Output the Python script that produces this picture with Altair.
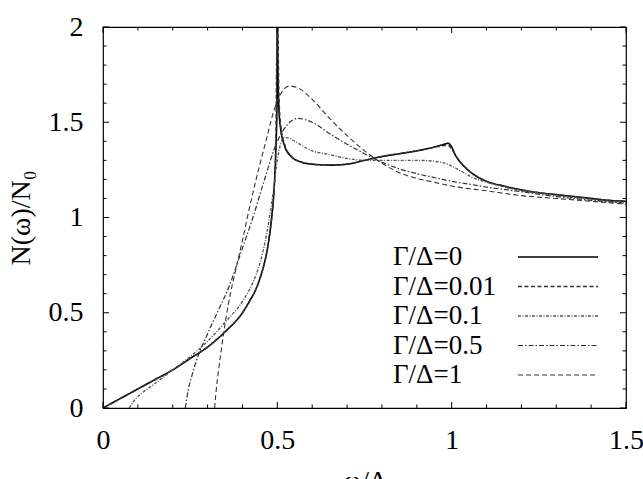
import altair as alt
import pandas as pd

labels = ["Γ/Δ=0", "Γ/Δ=0.01", "Γ/Δ=0.1", "Γ/Δ=0.5", "Γ/Δ=1"]

w0 = [0, 0.05, 0.1, 0.15, 0.2, 0.25, 0.3, 0.35, 0.4, 0.42, 0.44, 0.45, 0.46, 0.47, 0.48, 0.485, 0.49, 0.495,
      0.499, 0.5, 0.501, 0.505, 0.51, 0.52, 0.54, 0.57, 0.6, 0.65, 0.7, 0.75, 0.8, 0.85, 0.9, 0.95, 0.98,
      0.99, 1.0, 1.01, 1.03, 1.06, 1.1, 1.15, 1.2, 1.25, 1.3, 1.35, 1.4, 1.45, 1.5]
n0 = [0, 0.05, 0.10, 0.15, 0.20, 0.26, 0.32, 0.40, 0.50, 0.56, 0.63, 0.68, 0.74, 0.82, 0.94, 1.02, 1.13, 1.32,
      1.6, 2.6, 1.85, 1.55, 1.46, 1.38, 1.32, 1.29, 1.28, 1.275, 1.28, 1.30, 1.32, 1.335, 1.35, 1.37, 1.385,
      1.39, 1.37, 1.33, 1.28, 1.23, 1.19, 1.165, 1.145, 1.13, 1.12, 1.11, 1.10, 1.09, 1.085]

w1 = [0, 0.05, 0.1, 0.15, 0.2, 0.25, 0.3, 0.35, 0.4, 0.42, 0.44, 0.46, 0.47, 0.48, 0.49, 0.495, 0.5, 0.505,
      0.51, 0.52, 0.54, 0.57, 0.6, 0.65, 0.7, 0.75, 0.8, 0.85, 0.9, 0.95, 0.98, 0.99, 1.0, 1.01, 1.03, 1.06,
      1.1, 1.15, 1.2, 1.25, 1.3, 1.35, 1.4, 1.45, 1.5]
n1 = [0.0, 0.05, 0.10, 0.15, 0.20, 0.26, 0.32, 0.40, 0.50, 0.56, 0.63, 0.74, 0.82, 0.94, 1.13, 1.31, 2.05, 1.62,
      1.48, 1.39, 1.32, 1.29, 1.28, 1.275, 1.28, 1.30, 1.32, 1.335, 1.35, 1.368, 1.378, 1.378, 1.36, 1.33,
      1.28, 1.23, 1.19, 1.165, 1.145, 1.13, 1.12, 1.11, 1.10, 1.09, 1.085]

w2 = [0.075, 0.09, 0.1, 0.12, 0.15, 0.2, 0.25, 0.3, 0.35, 0.4, 0.43, 0.45, 0.47, 0.48, 0.49, 0.5, 0.51, 0.52,
      0.535, 0.55, 0.6, 0.65, 0.7, 0.75, 0.8, 0.85, 0.9, 0.95, 0.98, 1.0, 1.03, 1.06, 1.1, 1.15, 1.2, 1.25,
      1.3, 1.35, 1.4, 1.45, 1.5]
n2 = [0, 0.04, 0.06, 0.09, 0.13, 0.20, 0.27, 0.35, 0.45, 0.56, 0.66, 0.76, 0.92, 1.03, 1.16, 1.30, 1.39, 1.42,
      1.415, 1.40, 1.35, 1.33, 1.31, 1.30, 1.30, 1.30, 1.30, 1.295, 1.285, 1.27, 1.24, 1.21, 1.185, 1.16, 1.14,
      1.13, 1.115, 1.105, 1.095, 1.085, 1.08]

w3 = [0.236, 0.245, 0.255, 0.27, 0.3, 0.33, 0.36, 0.4, 0.43, 0.46, 0.5, 0.53, 0.56, 0.6, 0.65, 0.7, 0.75,
      0.8, 0.85, 0.9, 0.95, 1.0, 1.05, 1.1, 1.2, 1.3, 1.4, 1.5]
n3 = [0, 0.10, 0.17, 0.26, 0.39, 0.51, 0.63, 0.84, 1.00, 1.18, 1.40, 1.49, 1.52, 1.50, 1.44, 1.385, 1.335,
      1.29, 1.255, 1.23, 1.21, 1.19, 1.175, 1.16, 1.135, 1.11, 1.09, 1.075]

w4 = [0.32, 0.325, 0.333, 0.345, 0.36, 0.38, 0.4, 0.42, 0.45, 0.47, 0.49, 0.51, 0.535, 0.56, 0.6, 0.65, 0.7,
      0.75, 0.8, 0.85, 0.9, 0.95, 1.0, 1.1, 1.2, 1.3, 1.4, 1.5]
n4 = [0, 0.10, 0.22, 0.38, 0.55, 0.72, 0.88, 1.05, 1.28, 1.42, 1.56, 1.65, 1.69, 1.68, 1.62, 1.52, 1.43,
      1.35, 1.285, 1.235, 1.205, 1.185, 1.165, 1.14, 1.115, 1.10, 1.085, 1.07]

x_major = [0, 0.5, 1.0, 1.5]
x_minor = [0.1, 0.2, 0.3, 0.4, 0.6, 0.7, 0.8, 0.9, 1.1, 1.2, 1.3, 1.4]
y_major = [0, 0.5, 1.0, 1.5, 2.0]
y_minor = [0.1, 0.2, 0.3, 0.4, 0.6, 0.7, 0.8, 0.9, 1.1, 1.2, 1.3, 1.4, 1.6, 1.7, 1.8, 1.9]

rows = []
for lab, ws, ns in zip(labels, [w0, w1, w2, w3, w4], [n0, n1, n2, n3, n4]):
    for w, n in zip(ws, ns):
        rows.append({"series": lab, "w": w, "n": n})
df = pd.DataFrame(rows)
leg = pd.DataFrame({"series": labels})

W, H = 523, 381
FONT = "Liberation Serif"
dash_scale = alt.Scale(domain=labels, range=[[1, 0], [4, 2.5], [3, 1.5, 1, 1.5], [5, 2, 1.5, 2], [5, 3]])
color_scale = alt.Scale(domain=labels, range=["#000000", "#333333", "#555555", "#333333", "#333333"])
width_scale = alt.Scale(domain=labels, range=[1.6, 1.1, 1.1, 1.1, 1.2])
x_scale = alt.Scale(domain=[0, 1.5], nice=False, zero=False)
y_scale = alt.Scale(domain=[0, 2], nice=False, zero=False)

lab_expr = "'' + datum.value"

lines = alt.Chart(df).mark_line(clip=True, interpolate="monotone").encode(
    x=alt.X("w:Q", scale=x_scale,
            axis=alt.Axis(values=x_major, labelExpr=lab_expr, ticks=False, tickSize=0, domain=False,
                          grid=False, labelFlush=False, labelOverlap=False, labelPadding=18,
                          labelFont=FONT, labelFontSize=28, labelColor="black",
                          title="ω/Δ", titleFont=FONT, titleFontSize=28, titleFontWeight="normal",
                          titleColor="black", titleX=W / 2, titleY=59, titleBaseline="top")),
    y=alt.Y("n:Q", scale=y_scale,
            axis=alt.Axis(values=y_major, labelExpr=lab_expr, ticks=False, tickSize=0, domain=False,
                          grid=False, labelOverlap=False, labelPadding=20,
                          labelFont=FONT, labelFontSize=28, labelColor="black",
                          title="N(ω)/N₀", titleFont=FONT, titleFontSize=28, titleFontWeight="normal",
                          titleColor="black", titleX=-68, titleY=H / 2, titleBaseline="bottom",
                          titleAngle=270)),
    strokeDash=alt.StrokeDash("series:N", scale=dash_scale, legend=None),
    color=alt.Color("series:N", scale=color_scale, legend=None),
    strokeWidth=alt.StrokeWidth("series:N", scale=width_scale, legend=None),
    detail="series:N",
)


def xticks(vals, length, top):
    d = pd.DataFrame({"v": vals})
    y0 = 0 if top else H
    y1 = length if top else H - length
    return alt.Chart(d).mark_rule(color="black", strokeWidth=1).encode(
        x=alt.X("v:Q", scale=x_scale, axis=None), y=alt.value(y0), y2=alt.value(y1))


def yticks(vals, length, right):
    d = pd.DataFrame({"v": vals})
    x0 = W if right else 0
    x1 = W - length if right else length
    return alt.Chart(d).mark_rule(color="black", strokeWidth=1).encode(
        y=alt.Y("v:Q", scale=y_scale, axis=None), x=alt.value(x0), x2=alt.value(x1))


tick_layers = [
    xticks(x_major, 6, False), xticks(x_minor, 3.5, False),
    xticks(x_major, 6, True), xticks(x_minor, 3.5, True),
    yticks(y_major, 6, False), yticks(y_minor, 3.5, False),
    yticks(y_major, 6, True), yticks(y_minor, 3.5, True),
]

leg_y = alt.Y("series:N", scale=alt.Scale(type="point", domain=labels, range=[230, 348], padding=0), axis=None)

leg_rules = alt.Chart(leg).mark_rule().encode(
    x=alt.value(415), x2=alt.value(495), y=leg_y,
    strokeDash=alt.StrokeDash("series:N", scale=dash_scale, legend=None),
    color=alt.Color("series:N", scale=color_scale, legend=None),
    strokeWidth=alt.StrokeWidth("series:N", scale=width_scale, legend=None),
)

leg_text = alt.Chart(leg).mark_text(align="left", baseline="middle", font=FONT, fontSize=27,
                                    color="black").encode(
    x=alt.value(290), y=leg_y, text="series:N",
)

chart = alt.layer(lines, *tick_layers, leg_rules, leg_text).resolve_scale(
    y="independent"
).resolve_axis(
    x="independent", y="independent"
).properties(
    width=W, height=H,
    autosize=alt.AutoSizeParams(type="none"),
    padding={"left": 103, "top": 27, "right": 17, "bottom": 71},
    background="white",
).configure_view(stroke="black", strokeWidth=1.2)

chart.save("out.html", embed_options={"renderer": "svg", "actions": False})
